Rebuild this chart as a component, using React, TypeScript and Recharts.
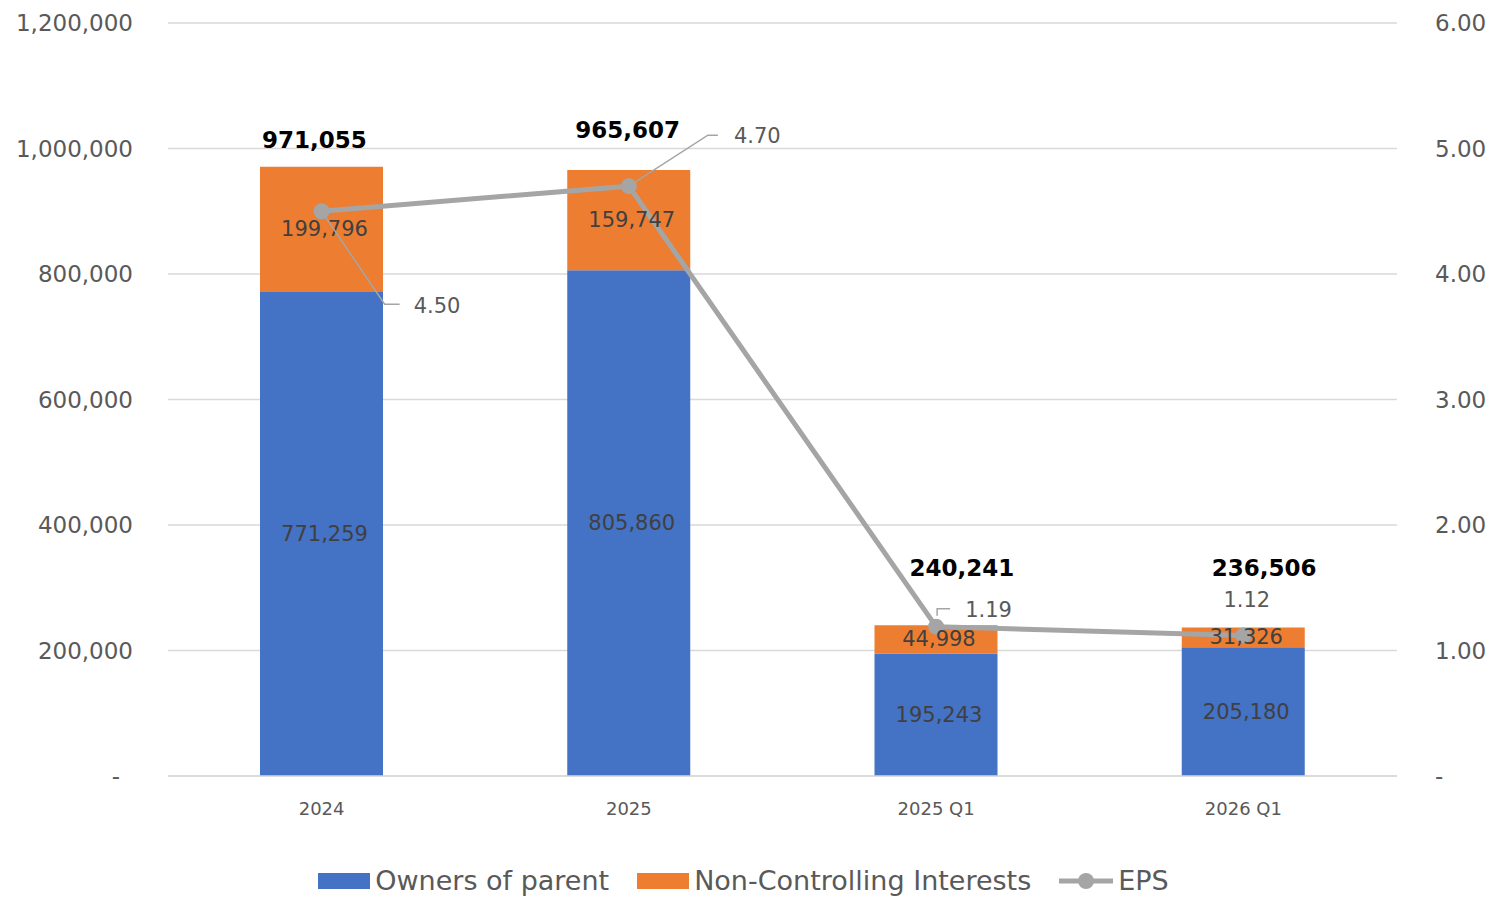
import React from 'react';
import { ComposedChart, Bar, Line, XAxis, YAxis, CartesianGrid, LabelList } from 'recharts';

const categories = ['2024', '2025', '2025 Q1', '2026 Q1'];
const ownersOfParent = [771259, 805860, 195243, 205180];
const nonControlling = [199796, 159747, 44998, 31326];
const eps = [4.5, 4.7, 1.19, 1.12];
const leftTicks = [0, 200000, 400000, 600000, 800000, 1000000, 1200000];
const rightTicks = [0, 1, 2, 3, 4, 5, 6];

const BLUE = '#4472C4';
const ORANGE = '#ED7D31';
const GREY = '#A5A5A5';
const TEXT = '#595959';
const FONT = "'DejaVu Sans', Verdana, sans-serif";

// manual label placement (as nudged in the original workbook)
const totalLabelShift = [
  { dx: -7, lift: 27 },
  { dx: -1, lift: 40 },
  { dx: 26, lift: 57 },
  { dx: 21, lift: 60 },
];
const epsLabelShift = [
  { dx: 92, dy: 95, leader: [[0, 0], [63, 93], [78, 93]] },
  { dx: 105, dy: -50, leader: [[0, 0], [79, -51], [89, -51]] },
  { dx: 29, dy: -17, leader: [[1, -11], [1, -18], [14, -18]] },
  { dx: -20, dy: -35, leader: [] as number[][] },
];

const data = categories.map((c, i) => ({
  name: c,
  owners: ownersOfParent[i],
  nci: nonControlling[i],
  total: ownersOfParent[i] + nonControlling[i],
  eps: eps[i],
}));

const fmt = (v: number) => v.toLocaleString('en-US');

function TotalLabel(props: any) {
  const vb = props.viewBox || props;
  const x = vb.x ?? props.x;
  const y = vb.y ?? props.y;
  const w = vb.width ?? props.width;
  const i = props.index;
  const s = totalLabelShift[i];
  return (
    <text x={x + w / 2 + s.dx} y={y - s.lift} textAnchor="middle" dominantBaseline="central"
      fontFamily={FONT} fontSize={23} fontWeight="bold" fill="#000">
      {fmt(data[i].total)}
    </text>
  );
}

function EpsLabel(props: any) {
  const vb = props.viewBox || props;
  const x = vb.x ?? props.x;
  const y = vb.y ?? props.y;
  const i = props.index;
  const s = epsLabelShift[i];
  const pts = s.leader.map(([a, b]) => `${x + a},${y + b}`).join(' ');
  return (
    <g>
      {s.leader.length > 0 && <polyline points={pts} fill="none" stroke={GREY} strokeWidth={1.5} />}
      <text x={x + s.dx} y={y + s.dy} dominantBaseline="central" fontFamily={FONT} fontSize={21} fill={TEXT}>
        {eps[i].toFixed(2)}
      </text>
    </g>
  );
}

function SegmentLabel(props: any) {
  const { x, y, width, height, value } = props;
  return (
    <text x={x + width / 2 + 3} y={y + height / 2} textAnchor="middle" dominantBaseline="central"
      fontFamily={FONT} fontSize={21} fill="#404040">
      {fmt(Number(value))}
    </text>
  );
}

function LeftTick(props: any) {
  const { x, y, payload } = props;
  const v = payload.value;
  return (
    <text x={v === 0 ? x - 13 : x} y={y} textAnchor="end" dominantBaseline="central"
      fontFamily={FONT} fontSize={23} fill={TEXT}>
      {v === 0 ? '-' : fmt(v)}
    </text>
  );
}

function LegendRow() {
  const item: React.CSSProperties = { display: 'flex', alignItems: 'center', marginRight: 28 };
  const txt: React.CSSProperties = { fontFamily: FONT, fontSize: 27, color: TEXT, marginLeft: 5 };
  return (
    <div style={{ position: 'absolute', left: 0, top: 865, width: 1497, display: 'flex', justifyContent: 'center', paddingRight: 10, boxSizing: 'border-box' }}>
      <div style={item}>
        <div style={{ width: 52, height: 16, background: BLUE }} />
        <span style={txt}>Owners of parent</span>
      </div>
      <div style={item}>
        <div style={{ width: 52, height: 16, background: ORANGE }} />
        <span style={txt}>Non-Controlling Interests</span>
      </div>
      <div style={{ ...item, marginRight: 0 }}>
        <svg width={54} height={20}>
          <line x1={0} y1={10} x2={54} y2={10} stroke={GREY} strokeWidth={5} />
          <circle cx={27} cy={10} r={8} fill={GREY} />
        </svg>
        <span style={txt}>EPS</span>
      </div>
    </div>
  );
}

export default function App() {
  return (
    <div style={{ position: 'absolute', left: 0, top: 0, width: 1497, height: 897, background: '#fff' }}>
      <ComposedChart width={1497} height={897} data={data} margin={{ top: 23, left: 18, right: 0, bottom: 71 }}>
        <CartesianGrid yAxisId="left" vertical={false} stroke="#D9D9D9" strokeWidth={1.5} />
        <XAxis dataKey="name" height={50} tickLine={false} axisLine={{ stroke: '#D9D9D9', strokeWidth: 1.5 }}
          tick={{ fill: TEXT, fontSize: 18, fontFamily: FONT }} tickMargin={20} />
        <YAxis yAxisId="left" width={150} domain={[0, 1200000]} ticks={leftTicks} axisLine={false} tickLine={false}
          tickSize={0} tickMargin={35} tick={<LeftTick />} />
        <YAxis yAxisId="right" orientation="right" width={100} domain={[0, 6]} ticks={rightTicks} axisLine={false}
          tickLine={false} tickSize={0} tickMargin={38} tick={{ fill: TEXT, fontSize: 23, fontFamily: FONT }}
          tickFormatter={(v: number) => (v === 0 ? '-' : v.toFixed(2))} />
        <Bar yAxisId="left" dataKey="owners" stackId="a" fill={BLUE} barSize={123} isAnimationActive={false}>
          <LabelList dataKey="owners" content={SegmentLabel} />
        </Bar>
        <Bar yAxisId="left" dataKey="nci" stackId="a" fill={ORANGE} barSize={123} isAnimationActive={false}>
          <LabelList dataKey="nci" content={SegmentLabel} />
          <LabelList dataKey="total" content={TotalLabel} />
        </Bar>
        <Line yAxisId="right" dataKey="eps" type="linear" stroke={GREY} strokeWidth={5}
          dot={{ r: 8, fill: GREY, stroke: 'none' }} activeDot={false} isAnimationActive={false}>
          <LabelList dataKey="eps" content={EpsLabel} />
        </Line>
      </ComposedChart>
      <LegendRow />
    </div>
  );
}
